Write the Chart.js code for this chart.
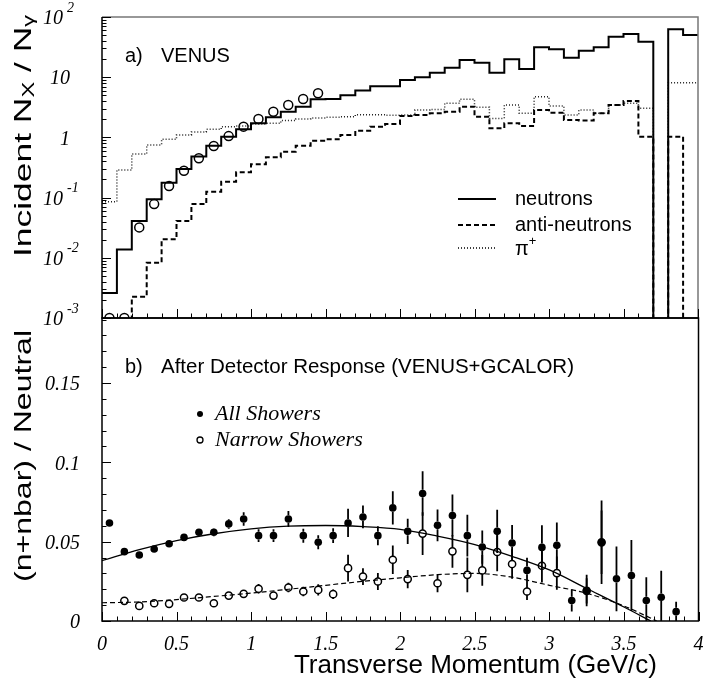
<!DOCTYPE html>
<html>
<head>
<meta charset="utf-8">
<script src="https://cdn.jsdelivr.net/npm/chart.js@4.4.0/dist/chart.umd.min.js"></script>
<style>
  html, body { margin: 0; padding: 0; background: #fff; }
  #wrap { position: relative; width: 704px; height: 687px; }
  canvas { position: absolute; left: 0; }
  #c1 { top: 0; }
  #c2 { top: 310px; }
</style>
</head>
<body>
<div id="wrap">
  <canvas id="c1" width="704" height="330"></canvas>
  <canvas id="c2" width="704" height="377"></canvas>
</div>
<script>
// ---- a) VENUS : incident N_X / N_gamma, 40 bins of 0.1 GeV/c
const BIN_WIDTH = 0.1;
const neutrons = [0.0026, 0.0138, 0.041, 0.094, 0.177, 0.30, 0.48, 0.73, 1.03, 1.36,
                  1.71, 2.16, 2.67, 3.24, 4.3, 4.35, 5.0, 6.0, 7.1, 7.1,
                  9.0, 10.0, 11.9, 14.4, 19.3, 17.4, 11.9, 19.8, 13.7, 31.3,
                  29.0, 21.1, 27.6, 31.3, 47.1, 52.2, 38.9, 0, 62.4, 50.2];
const antiNeutrons = [0, 0, 0.00226, 0.0083, 0.0203, 0.041, 0.078, 0.125, 0.184, 0.263,
                      0.357, 0.467, 0.578, 0.728, 0.88, 0.93, 1.1, 1.29, 1.51, 1.67,
                      2.26, 2.35, 2.51, 2.67, 3.24, 2.21, 1.42, 1.71, 1.55, 2.85,
                      2.57, 1.95, 1.90, 2.51, 3.45, 4.03, 1.03, 0, 1.03, 0];
const piPlus = [0.0855, 0.287, 0.53, 0.748, 0.93, 1.1, 1.23, 1.36, 1.51, 1.55,
                1.67, 1.71, 1.90, 2.02, 2.10, 2.16, 2.21, 2.38, 2.38, 2.33,
                2.35, 2.85, 2.92, 3.68, 4.30, 3.16, 2.07, 3.45, 2.51, 4.75,
                3.33, 2.35, 2.85, 2.51, 3.45, 3.68, 3.04, 0, 8.1, 8.1];
const venusPt = [0.05, 0.15, 0.25, 0.35, 0.45, 0.55, 0.65, 0.75, 0.85, 0.95, 1.05, 1.15, 1.25, 1.35, 1.45];
const venusCircles = [0.001, 0.001, 0.032, 0.078, 0.156, 0.28, 0.45, 0.72, 1.05, 1.51, 2.02, 2.67, 3.45, 4.35, 5.41];

// ---- b) after detector response : (n+nbar)/neutral
const allPt = [0.05, 0.15, 0.25, 0.35, 0.45, 0.55, 0.65, 0.75, 0.85, 0.95,
               1.05, 1.15, 1.25, 1.35, 1.45, 1.55, 1.65, 1.75, 1.85, 1.95,
               2.05, 2.15, 2.25, 2.35, 2.45, 2.55, 2.65, 2.75, 2.85, 2.95,
               3.05, 3.15, 3.25, 3.35, 3.45, 3.55, 3.65, 3.75, 3.85];
const allShowers = [0.0618, 0.0437, 0.0416, 0.0454, 0.0487, 0.0527, 0.0559, 0.0559, 0.0612, 0.0643,
                    0.0538, 0.0538, 0.0643, 0.0538, 0.0496, 0.0538, 0.0618, 0.0656, 0.0538, 0.0713,
                    0.0565, 0.0804, 0.0603, 0.0665, 0.0538, 0.0466, 0.0565, 0.0492, 0.0319, 0.0464,
                    0.0477, 0.0129, 0.0192, 0.0496, 0.0266, 0.0287, 0.0129, 0.015, 0.0059];
const allErr = [0.002, 0.002, 0.002, 0.002, 0.002, 0.002, 0.002, 0.0025, 0.003, 0.0042,
                0.004, 0.004, 0.005, 0.0044, 0.0044, 0.0047, 0.0089, 0.0072, 0.006, 0.0105,
                0.0079, 0.014, 0.010, 0.0132, 0.0132, 0.0105, 0.0137, 0.0113, 0.0079, 0.0139,
                0.0144, 0.0069, 0.0099, 0.0263, 0.0204, 0.0224, 0.0146, 0.0167, 0.0063];
const narrowPt = [0.15, 0.25, 0.35, 0.45, 0.55, 0.65, 0.75, 0.85, 0.95, 1.05,
                  1.15, 1.25, 1.35, 1.45, 1.55, 1.65, 1.75, 1.85, 1.95, 2.05,
                  2.15, 2.25, 2.35, 2.45, 2.55, 2.65, 2.75, 2.85, 2.95, 3.05,
                  3.25, 3.35];
const narrowShowers = [0.0127, 0.0095, 0.0112, 0.0108, 0.0148, 0.0148, 0.0112, 0.016, 0.0171, 0.0203,
                       0.016, 0.0211, 0.0186, 0.0196, 0.0169, 0.0333, 0.028, 0.0249, 0.0386, 0.0264,
                       0.0551, 0.0238, 0.0439, 0.0291, 0.0319, 0.0435, 0.0359, 0.0186, 0.0348, 0.0302,
                       0.019, 0.0496];
const narrowErr = [0.0015, 0.0015, 0.0015, 0.0015, 0.0015, 0.0015, 0.0015, 0.002, 0.002, 0.003,
                   0.0025, 0.003, 0.003, 0.0035, 0.003, 0.0084, 0.0053, 0.0053, 0.009, 0.0057,
                   0.0135, 0.0057, 0.0103, 0.0109, 0.0097, 0.0121, 0.0093, 0.0053, 0.0105, 0.0105,
                   0.008, 0.02];
const fitAllPt = [0, 0.25, 0.5, 0.75, 1, 1.25, 1.5, 1.75, 2, 2.25, 2.5, 2.75, 3, 3.25, 3.5, 3.68];
const fitAll = [0.038, 0.045, 0.0507, 0.055, 0.0581, 0.0598, 0.0602, 0.0595, 0.0578, 0.0535, 0.0482, 0.0408, 0.0322, 0.0205, 0.0088, 0];
const fitNarrowPt = [0, 0.25, 0.5, 0.75, 1, 1.25, 1.5, 1.75, 2, 2.25, 2.5, 2.75, 3, 3.25, 3.5, 3.72];
const fitNarrow = [0.0115, 0.012, 0.0135, 0.0155, 0.0176, 0.020, 0.0225, 0.025, 0.0272, 0.0292, 0.030, 0.0276, 0.0225, 0.0175, 0.0095, 0];

// ---- tick labels
const xTicks = [0, 0.5, 1, 1.5, 2, 2.5, 3, 3.5, 4];
const xTickLabels = ['0', '0.5', '1', '1.5', '2', '2.5', '3', '3.5', '4'];
const logTicks = [100, 10, 1, 0.1, 0.01, 0.001];
const logTickBase = ['10', '10', '1', '10', '10', '10'];
const logTickExp = ['2', '', '', '-1', '-2', '-3'];
const linTicks = [0, 0.05, 0.1, 0.15];
const linTickLabels = ['0', '0.05', '0.1', '0.15'];

const SANS = "'Liberation Sans', Arial, sans-serif";
const SERIF = "'Liberation Serif', 'Times New Roman', serif";
const BOT_OFF = 310;       // page y of the lower canvas
const EMPTY = 1e-6;        // empty bin -> drops below the log axis

function stepData(vals) {
  const pts = vals.map((v, i) => ({ x: i * BIN_WIDTH, y: v > 0 ? v : EMPTY }));
  pts.push({ x: vals.length * BIN_WIDTH, y: pts[pts.length - 1].y });
  return pts;
}
const xy = (xs, ys) => xs.map((x, i) => ({ x: x, y: ys[i] }));

function seg(ctx, x1, y1, x2, y2) {
  ctx.beginPath(); ctx.moveTo(x1, y1); ctx.lineTo(x2, y2); ctx.stroke();
}
function rich(ctx, parts, x, y, align) {
  let total = 0;
  parts.forEach(p => { ctx.font = p.font; p.w = ctx.measureText(p.t).width; total += p.w; });
  let cx = align === 'right' ? x - total : align === 'center' ? x - total / 2 : x;
  ctx.textAlign = 'left';
  parts.forEach(p => { ctx.font = p.font; ctx.fillText(p.t, cx, y + (p.dy || 0)); cx += p.w; });
  return total;
}
// vertical title, reading upwards from (x, yStart) and stretched to a given length
function vTitle(ctx, parts, x, yStart, len) {
  let total = 0;
  parts.forEach(p => { ctx.font = p.font; total += ctx.measureText(p.t).width; });
  ctx.save();
  ctx.translate(x, yStart); ctx.rotate(-Math.PI / 2); ctx.scale(len / total, 1);
  rich(ctx, parts, 0, 0, 'left');
  ctx.restore();
}
function xAxisTicks(ctx, a, x) {
  ctx.lineWidth = 1;
  for (let i = 0; i <= 40; i++) {
    const px = Math.round(x.getPixelForValue(i / 10)) + 0.5;
    seg(ctx, px, a.bottom, px, a.bottom - (i % 5 === 0 ? 9 : 4.5));
  }
}

const topDecor = {
  id: 'topDecor',
  afterDraw(chart) {
    const { ctx, chartArea: a, scales: { x, y } } = chart;
    ctx.save();
    ctx.lineWidth = 1.5;
    ctx.strokeStyle = '#777';
    ctx.beginPath(); ctx.moveTo(a.left, a.top); ctx.lineTo(a.right, a.top); ctx.lineTo(a.right, a.bottom); ctx.stroke();
    ctx.strokeStyle = '#000';
    ctx.beginPath(); ctx.moveTo(a.left, a.top); ctx.lineTo(a.left, a.bottom); ctx.lineTo(a.right, a.bottom); ctx.stroke();
    xAxisTicks(ctx, a, x);
    for (let e = -3; e <= 2; e++) {
      for (let m = 1; m <= 9; m++) {
        const v = m * Math.pow(10, e);
        if (v > 100) break;
        const py = Math.round(y.getPixelForValue(v)) + 0.5;
        seg(ctx, a.left, py, a.left + (m === 1 ? 9 : 4.5), py);
      }
    }
    // y tick labels
    ctx.fillStyle = '#000';
    ctx.textBaseline = 'middle';
    logTicks.forEach((v, i) => {
      const py = y.getPixelForValue(v) + 2;
      ctx.font = 'italic 20px ' + SERIF; ctx.textAlign = 'right';
      if (logTickExp[i]) {
        ctx.fillText(logTickBase[i], 63, py);
        ctx.font = 'italic 14px ' + SERIF; ctx.textAlign = 'left';
        ctx.fillText(logTickExp[i], 67, py - 11);
      } else {
        ctx.fillText(logTickBase[i], 70, py);
      }
    });
    // y title
    vTitle(ctx, [{ t: 'Incident N', font: '24px ' + SANS },
                 { t: 'X', font: '16px ' + SANS, dy: 6 },
                 { t: ' / N', font: '24px ' + SANS },
                 { t: 'γ', font: '16px ' + SANS, dy: 6 }], 24, 257, 242);
    // panel text + legend
    ctx.font = '20px ' + SANS; ctx.textAlign = 'left';
    ctx.fillText('a)', 125, 56);
    ctx.fillText('VENUS', 161, 56);
    const rows = [[[], 2], [[5, 3], 2], [[1, 2], 1.5]];
    rows.forEach((r, i) => {
      const ly = [199, 225, 248][i];
      ctx.setLineDash(r[0]); ctx.lineWidth = r[1];
      seg(ctx, 458, ly, 496, ly);
    });
    ctx.setLineDash([]);
    ctx.fillText('neutrons', 515, 199);
    ctx.fillText('anti-neutrons', 515, 225);
    rich(ctx, [{ t: 'π', font: '20px ' + SANS }, { t: '+', font: '13px ' + SANS, dy: -8 }], 515, 249, 'left');
    ctx.restore();
  }
};

const errorBars = {
  id: 'errorBars',
  beforeDatasetsDraw(chart) {
    const { ctx, chartArea: a, scales: { x, y } } = chart;
    ctx.save();
    ctx.beginPath(); ctx.rect(a.left, a.top, a.right - a.left, a.bottom - a.top); ctx.clip();
    ctx.strokeStyle = '#000'; ctx.lineWidth = 1.8;
    chart.data.datasets.forEach(ds => {
      if (!ds.errors) return;
      ds.data.forEach((p, i) => {
        const px = x.getPixelForValue(p.x), pc = y.getPixelForValue(p.y);
        const up = y.getPixelForValue(p.y + ds.errors[i]), dn = y.getPixelForValue(p.y - ds.errors[i]);
        const r = ds.pointRadius;
        if (pc - r > up) seg(ctx, px, up, px, pc - r);
        if (pc + r < dn) seg(ctx, px, pc + r, px, dn);
      });
    });
    ctx.restore();
  }
};

const botDecor = {
  id: 'botDecor',
  afterDraw(chart) {
    const { ctx, chartArea: a, scales: { x, y } } = chart;
    ctx.save();
    ctx.lineWidth = 1.5; ctx.strokeStyle = '#000';
    ctx.strokeRect(a.left, a.top, a.right - a.left, a.bottom - a.top);
    xAxisTicks(ctx, a, x);
    for (let i = 0; i <= 19; i++) {
      const py = Math.round(y.getPixelForValue(i / 100)) + 0.5;
      seg(ctx, a.left, py, a.left + (i % 5 === 0 ? 9 : 4.5), py);
    }
    ctx.fillStyle = '#000';
    ctx.textBaseline = 'middle';
    ctx.font = 'italic 20px ' + SERIF;
    ctx.textAlign = 'right';
    linTicks.forEach((v, i) => ctx.fillText(linTickLabels[i], 80, y.getPixelForValue(v) + 2));
    ctx.textAlign = 'center';
    xTicks.forEach((v, i) => ctx.fillText(xTickLabels[i], x.getPixelForValue(v), 645 - BOT_OFF));
    // x title
    ctx.font = '26px ' + SANS; ctx.textAlign = 'right';
    ctx.fillText('Transverse Momentum (GeV/c)', 657, 666 - BOT_OFF);
    // y title
    vTitle(ctx, [{ t: '(n+nbar) / Neutral', font: '24px ' + SANS }], 24, 582 - BOT_OFF, 252);
    // panel text
    ctx.font = '20px ' + SANS; ctx.textAlign = 'left';
    ctx.fillText('b)', 125, 367 - BOT_OFF);
    ctx.font = '20.5px ' + SANS;
    ctx.fillText('After Detector Response (VENUS+GCALOR)', 161, 367 - BOT_OFF);
    // legend
    ctx.beginPath(); ctx.arc(200, 414 - BOT_OFF, 3, 0, Math.PI * 2); ctx.fill();
    ctx.lineWidth = 1.3;
    ctx.beginPath(); ctx.arc(200, 440 - BOT_OFF, 3, 0, Math.PI * 2); ctx.stroke();
    ctx.font = 'italic 22px ' + SERIF;
    ctx.fillText('All Showers', 215, 414 - BOT_OFF);
    ctx.fillText('Narrow Showers', 215, 440 - BOT_OFF);
    ctx.restore();
  }
};

const common = {
  responsive: false,
  animation: false,
  events: [],
  plugins: { legend: { display: false }, tooltip: { enabled: false } }
};

new Chart(document.getElementById('c1'), {
  type: 'line',
  data: {
    datasets: [
      { data: stepData(neutrons), stepped: 'before', borderColor: '#000', borderWidth: 2, pointRadius: 0 },
      { data: stepData(antiNeutrons), stepped: 'before', borderColor: '#000', borderWidth: 2, borderDash: [5, 3], pointRadius: 0 },
      { data: stepData(piPlus), stepped: 'before', borderColor: '#222', borderWidth: 1.5, borderDash: [1, 2], pointRadius: 0 },
      { type: 'scatter', data: xy(venusPt, venusCircles), showLine: false, pointRadius: 4.5,
        pointBorderWidth: 1.5, pointBorderColor: '#000', pointBackgroundColor: 'rgba(0,0,0,0)' }
    ]
  },
  options: Object.assign({}, common, {
    layout: { padding: { left: 102, right: 2, top: 17, bottom: 12 } },
    scales: {
      x: { type: 'linear', min: 0, max: 4, display: false },
      y: { type: 'logarithmic', min: 0.001, max: 100, display: false }
    }
  }),
  plugins: [topDecor]
});

new Chart(document.getElementById('c2'), {
  type: 'line',
  data: {
    datasets: [
      { data: xy(fitAllPt, fitAll), borderColor: '#000', borderWidth: 1.3, pointRadius: 0, cubicInterpolationMode: 'monotone' },
      { data: xy(fitNarrowPt, fitNarrow), borderColor: '#000', borderWidth: 1.2, borderDash: [5, 3], pointRadius: 0, cubicInterpolationMode: 'monotone' },
      { type: 'scatter', data: xy(allPt, allShowers), errors: allErr, showLine: false, pointRadius: 3.8,
        pointBorderWidth: 0, pointBackgroundColor: '#000' },
      { type: 'scatter', data: xy(narrowPt, narrowShowers), errors: narrowErr, showLine: false, pointRadius: 3.6,
        pointBorderWidth: 1.5, pointBorderColor: '#000', pointBackgroundColor: 'rgba(0,0,0,0)' }
    ]
  },
  options: Object.assign({}, common, {
    layout: { padding: { left: 102, right: 2, top: 8, bottom: 66 } },
    scales: {
      x: { type: 'linear', min: 0, max: 4, display: false },
      y: { type: 'linear', min: 0, max: 0.191, display: false }
    }
  }),
  plugins: [errorBars, botDecor]
});
</script>
</body>
</html>
